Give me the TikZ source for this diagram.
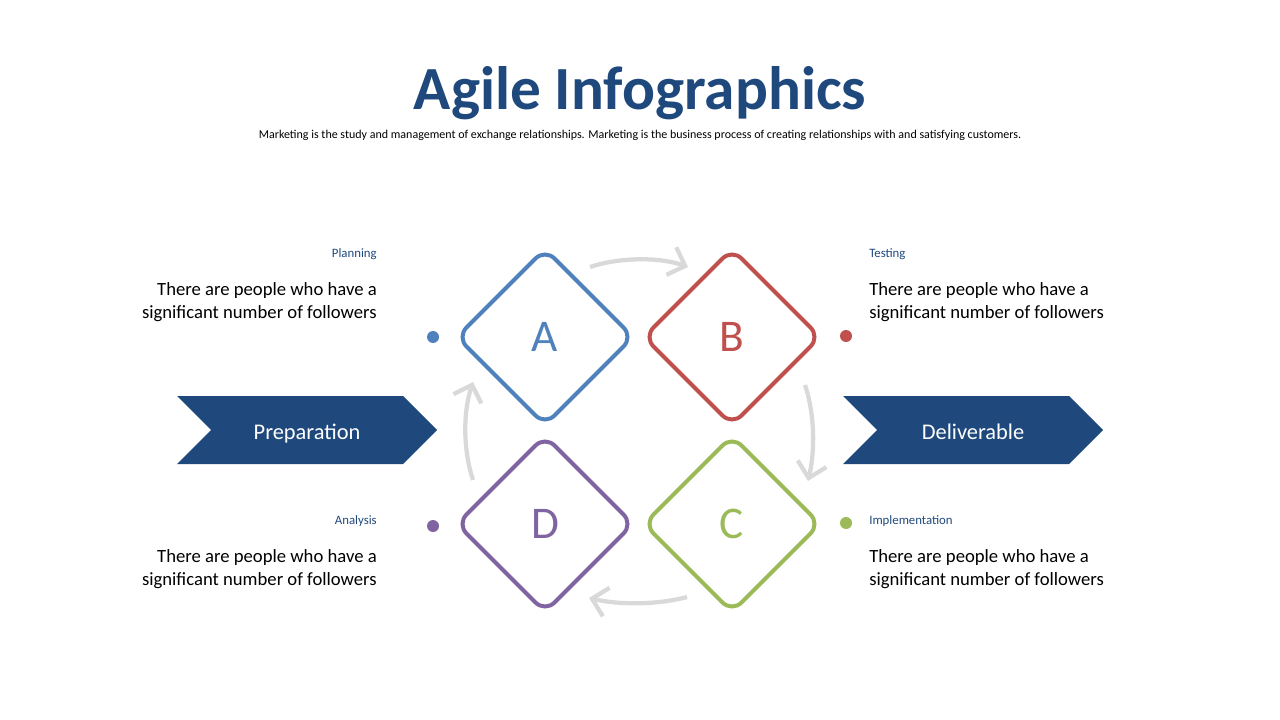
\documentclass[tikz,border=0pt]{standalone}
\usepackage{fontspec}
\setmainfont{Carlito}
\usetikzlibrary{shapes.geometric, shapes.symbols, arrows.meta, calc}

\definecolor{navy}{HTML}{1F497D}
\definecolor{stepblue}{HTML}{4F81BD}
\definecolor{stepred}{HTML}{C0504D}
\definecolor{stepgreen}{HTML}{9BBB59}
\definecolor{steppurple}{HTML}{8064A2}
\definecolor{cyclegray}{HTML}{D9D9D9}

\tikzset{
    stepbox/.style={diamond, draw=#1, text=#1, line width=3pt, minimum size=132pt,
        inner sep=0pt, outer sep=0pt, rounded corners=10pt, font=\fontsize{34}{34}\selectfont},
    stepdot/.style={circle, fill=#1, minimum size=9pt, inner sep=0pt},
    chevron/.style={signal, signal from=west, signal to=east, fill=navy, text=white,
        minimum width=195pt, minimum height=51pt, inner sep=0pt, text height=17pt, text depth=3.5pt,
        font=\fontsize{16.8}{19}\selectfont},
    cyc/.style={draw=cyclegray, line width=3.2pt, -{Straight Barb[length=11pt, width=22pt]}},
    phase/.style={text=navy, font=\fontsize{9.6}{11}\selectfont, inner sep=0pt},
    blurb/.style={font=\fontsize{14}{17.25}\selectfont, inner sep=0pt}
}

\begin{document}
\begin{tikzpicture}[x=0.75pt, y=-0.75pt]
    \useasboundingbox (0,0) rectangle (1280,720);

    \node[text=navy, font=\bfseries\fontsize{46}{46}\selectfont] (title) at (640, 93) {Agile Infographics};
    \node[font=\fontsize{9}{11}\selectfont] (subtitle) at (640, 135) {Marketing is the study and management of exchange relationships. Marketing is the business process of creating relationships with and satisfying customers.};

    \node[stepbox=stepblue] (A) at (545, 337) {A};
    \node[stepbox=stepred] (B) at (732, 337) {B};
    \node[stepbox=stepgreen] (C) at (732, 524) {C};
    \node[stepbox=steppurple] (D) at (545, 524) {D};

    \node[stepdot=stepblue] (dotA) at (433, 337) {};
    \node[stepdot=stepred] (dotB) at (846, 336) {};
    \node[stepdot=stepgreen] (dotC) at (846, 523) {};
    \node[stepdot=steppurple] (dotD) at (433, 526) {};

    \node[chevron] (prep) at (307, 430) {Preparation};
    \node[chevron] (deliv) at (973, 430) {Deliverable};

    \node[phase, anchor=east] (planning) at (377, 254) {Planning};
    \node[blurb, anchor=east, align=right] (planningtext) at (377, 302) {There are people who have a\\significant number of followers};
    \node[phase, anchor=west] (testing) at (869, 254) {Testing};
    \node[blurb, anchor=west, align=left] (testingtext) at (869, 302) {There are people who have a\\significant number of followers};
    \node[phase, anchor=east] (analysis) at (377, 521) {Analysis};
    \node[blurb, anchor=east, align=right] (analysistext) at (377, 569) {There are people who have a\\significant number of followers};
    \node[phase, anchor=west] (implementation) at (869, 521) {Implementation};
    \node[blurb, anchor=west, align=left] (implementationtext) at (869, 569) {There are people who have a\\significant number of followers};

    % A-B
    \draw[cyc] ($(A)+(45,-70)$) .. controls +(30,-10) and +(-28,-10) .. ($(B)+(-44,-70)$);

    % B-C
    \draw[cyc] ($(B)+(73,48)$) .. controls +(10,30) and +(7,-30) .. ($(C)+(76,-43)$);

    % C-D
    \draw[cyc] ($(C)+(-45,73)$) .. controls +(-30,8) and +(30,7) .. ($(D)+(44,74)$);

    % D-A
    \draw[cyc] ($(D)+(-72,-44)$) .. controls +(-10,-30) and +(-10,30) .. ($(A)+(-72,45)$);
\end{tikzpicture}
\end{document}
